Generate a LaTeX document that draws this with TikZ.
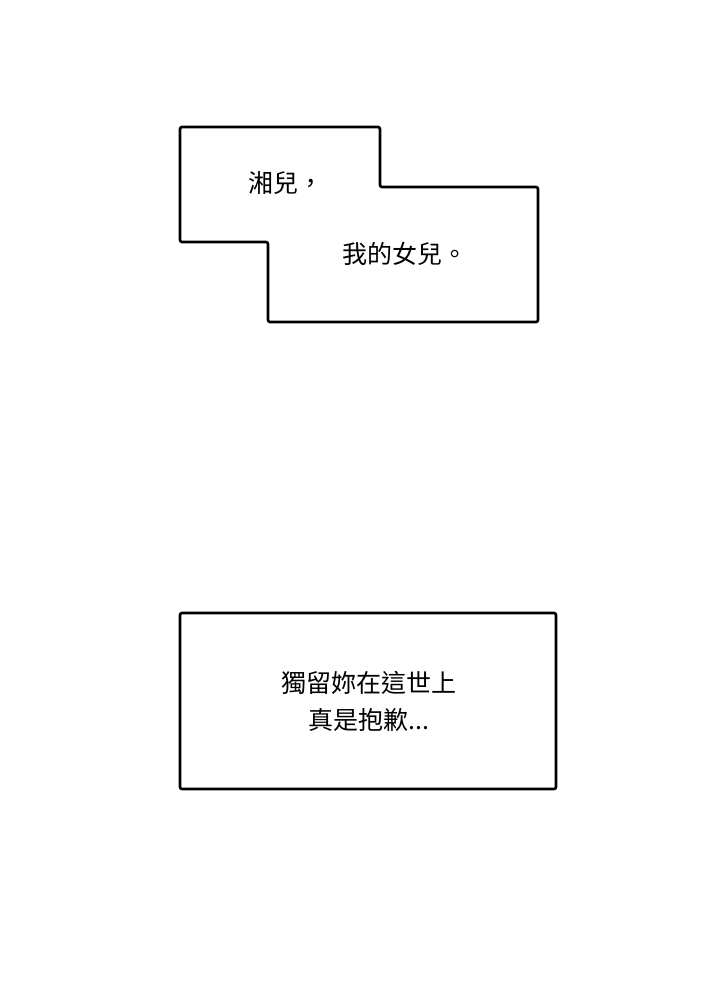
\documentclass[tikz,border=0pt]{standalone}
\usepackage{fontspec}
\newfontfamily\cjk{Noto Sans CJK TC}
\begin{document}
\begin{tikzpicture}[x=1pt,y=1pt,
  panel/.style={draw=black,line width=2.6pt,rounded corners=2pt,fill=white},
  txt/.style={font=\cjk\fontsize{25}{37}\selectfont,align=center,inner sep=0pt}]
\useasboundingbox (0,0) rectangle (720,986);
\fill[white] (0,0) rectangle (720,986);
\draw[panel] (180,859) -- (380,859) -- (380,799) -- (538,799) -- (538,664) -- (268,664) -- (268,744) -- (180,744) -- cycle;
\node[txt] (t1) at (286,803) {湘兒，};
\node[txt] (t2) at (405,732) {我的女兒。};
\draw[panel] (180,373) rectangle (556,197);
\node[txt] (t3) at (369,285) {獨留妳在這世上\\真是抱歉...};
\end{tikzpicture}
\end{document}
